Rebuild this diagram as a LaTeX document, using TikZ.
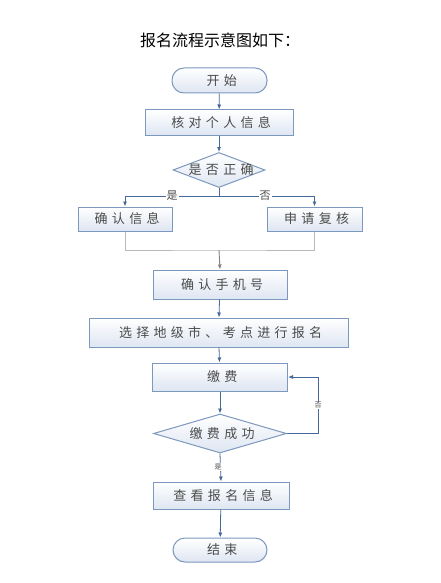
\documentclass[tikz,border=0pt]{standalone}
\usepackage{fontspec}
\newfontfamily\cjk[LetterSpace=33]{Noto Sans CJK SC}
\newfontfamily\cjktitle{Noto Sans CJK SC}
\usetikzlibrary{shapes.geometric,arrows.meta}
\definecolor{bordc}{RGB}{125,152,190}
\definecolor{fillb}{RGB}{222,230,242}
\definecolor{arrc}{RGB}{70,105,155}
\definecolor{grayl}{RGB}{185,185,185}
\definecolor{txtc}{RGB}{75,75,75}
\tikzset{
  box/.style={draw=bordc, line width=1pt, top color=white, bottom color=fillb,
    inner sep=0pt, font=\cjk\fontsize{13}{13}\selectfont, text=txtc,
    execute at end node={\kern-0.33em}},
  term/.style={box, rounded corners=12pt},
  dia/.style={draw=bordc, line width=1pt, top color=white, bottom color=fillb,
    diamond, inner sep=0pt},
  diatext/.style={font=\cjk\fontsize{13}{13}\selectfont, text=txtc,
    execute at end node={\kern-0.33em}},
  arr/.style={draw=arrc, line width=0.8pt, -{Latex[length=5pt,width=4pt]}},
  ln/.style={draw=arrc, line width=0.8pt},
  gln/.style={draw=grayl, line width=1pt},
  garr/.style={draw=grayl!70!black, line width=0.9pt, -{Latex[length=5pt,width=4pt]}},
  lab/.style={fill=white, inner sep=1pt, font=\cjktitle\fontsize{11}{11}\selectfont, text=txtc},
  slab/.style={fill=white, inner sep=0.5pt, font=\cjktitle\fontsize{7}{7}\selectfont, text=txtc},
}
\begin{document}
\begin{tikzpicture}[x=1pt,y=-1pt]
\useasboundingbox[fill=white] (0,0) rectangle (440,583);
\node[font=\cjktitle\fontsize{16}{16}\selectfont, text=black] (title) at (220,40) {报名流程示意图如下：};
\node[term, minimum width=95pt, minimum height=25pt] (start) at (219.5,80.5) {开始};
\node[box, minimum width=148pt, minimum height=25pt] (check) at (219,122.5) {核对个人信息};
\node[dia, minimum width=92pt, minimum height=35pt] (d1) at (219,170) {};
\node[diatext] (d1t) at (d1.center) {是否正确};
\node[box, minimum width=94pt, minimum height=24pt] (conf) at (125,219) {确认信息};
\node[box, minimum width=95pt, minimum height=24pt] (appl) at (314.5,219) {申请复核};
\node[box, minimum width=134pt, minimum height=29pt] (phone) at (220,284.5) {确认手机号};
\node[box, minimum width=259pt, minimum height=29pt] (sel) at (218.5,332.5) {选择地级市、考点进行报名};
\node[box, minimum width=135pt, minimum height=28pt] (pay) at (220,377) {缴费};
\node[dia, minimum width=133pt, minimum height=39pt] (d2) at (220,433.5) {};
\node[diatext] (d2t) at (d2.center) {缴费成功};
\node[box, minimum width=136pt, minimum height=27pt] (view) at (221,495.5) {查看报名信息};
\node[term, minimum width=94pt, minimum height=24pt] (end) at (220,550) {结束};

\coordinate (br) at (219,196);
\coordinate (mg) at (219,250);
\coordinate (lp) at (318,433.5);

\draw[arr] (start) -- (check);
\draw[arr] (check) -- (d1.north);
\draw[ln] (d1.south) -- (br);
\draw[arr] (br) -| (conf.north);
\draw[arr] (br) -| (appl.north);
\node[lab] (yes1) at (172,196) {是};
\node[lab] (no1) at (265,196) {否};
\draw[gln] (conf.south) |- (mg) -| (appl.south);
\draw[garr] (mg) -- (phone.north);
\draw[arr] (phone) -- (sel);
\draw[arr] (sel) -- (pay);
\draw[arr] (pay) -- (d2.north);
\draw[arr] (d2.south) -- (view.north);
\node[slab] (yes2) at (218,467) {是};
\draw[arr] (view) -- (end);
\draw[arr] (d2.east) -- (lp) |- (pay.east);
\node[slab] (no2) at (318,405.5) {否};
\end{tikzpicture}
\end{document}
